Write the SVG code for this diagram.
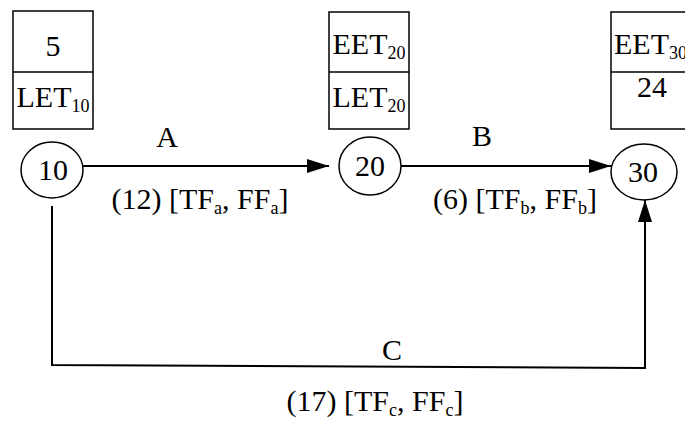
<svg xmlns="http://www.w3.org/2000/svg" width="685" height="423" viewBox="0 0 685 423">
<style>
  .box { fill: #fff; stroke: #000; stroke-width: 1.5; }
  .node { fill: #fff; stroke: #000; stroke-width: 1.5; }
  .edge { fill: none; stroke: #000; stroke-width: 2; }
  text { font-family: "Liberation Serif", "Times New Roman", serif; font-size: 30px; fill: #000; }
  .sub { font-size: 18px; }
</style>
<defs>
  <marker id="arrow" markerUnits="userSpaceOnUse" markerWidth="22" markerHeight="14" refX="22" refY="7" orient="auto">
    <path d="M0,0 L22,7 L0,14 z" fill="#000"/>
  </marker>
</defs>
<rect width="685" height="423" fill="#fff"/>
<g id="connectors">
  <line class="edge" x1="83" y1="166" x2="329" y2="166" marker-end="url(#arrow)"/>
  <line class="edge" x1="401" y1="166" x2="611" y2="166" marker-end="url(#arrow)"/>
  <polyline class="edge" points="52,206 52,365 645,368 645,200" marker-end="url(#arrow)"/>
  <text x="167" y="147" text-anchor="middle">A</text>
  <text x="200" y="209" text-anchor="middle">(12) [TF<tspan class="sub" dy="5">a</tspan><tspan dy="-5">, FF</tspan><tspan class="sub" dy="5">a</tspan><tspan dy="-5">]</tspan></text>
  <text x="482" y="146" text-anchor="middle">B</text>
  <text x="515" y="209" text-anchor="middle">(6) [TF<tspan class="sub" dy="5">b</tspan><tspan dy="-5">, FF</tspan><tspan class="sub" dy="5">b</tspan><tspan dy="-5">]</tspan></text>
  <text x="392" y="360" text-anchor="middle">C</text>
  <text x="375" y="411" text-anchor="middle">(17) [TF<tspan class="sub" dy="5">c</tspan><tspan dy="-5">, FF</tspan><tspan class="sub" dy="5">c</tspan><tspan dy="-5">]</tspan></text>
</g>
<g id="box10">
  <rect class="box" x="13" y="11" width="80" height="118"/>
  <line class="box" x1="13" y1="72" x2="93" y2="72"/>
  <text x="53" y="56" text-anchor="middle">5</text>
  <text x="53" y="107" text-anchor="middle">LET<tspan class="sub" dy="5">10</tspan></text>
</g>
<g id="box20">
  <rect class="box" x="329" y="12" width="80" height="117"/>
  <line class="box" x1="329" y1="72" x2="409" y2="72"/>
  <text x="369" y="54" text-anchor="middle">EET<tspan class="sub" dy="5">20</tspan></text>
  <text x="369" y="107" text-anchor="middle">LET<tspan class="sub" dy="5">20</tspan></text>
</g>
<g id="box30">
  <rect class="box" x="611" y="12" width="80" height="117"/>
  <line class="box" x1="611" y1="72" x2="691" y2="72"/>
  <text x="614" y="54">EET<tspan class="sub" dy="5">30</tspan></text>
  <text x="652" y="97" text-anchor="middle">24</text>
</g>
<g id="node10">
  <ellipse class="node" cx="52" cy="170" rx="31" ry="28"/>
  <text x="53" y="180" text-anchor="middle">10</text>
</g>
<g id="node20">
  <ellipse class="node" cx="370" cy="166" rx="31" ry="29"/>
  <text x="370" y="176" text-anchor="middle">20</text>
</g>
<g id="node30">
  <ellipse class="node" cx="644" cy="172" rx="33" ry="28"/>
  <text x="643" y="182" text-anchor="middle">30</text>
</g>
</svg>
